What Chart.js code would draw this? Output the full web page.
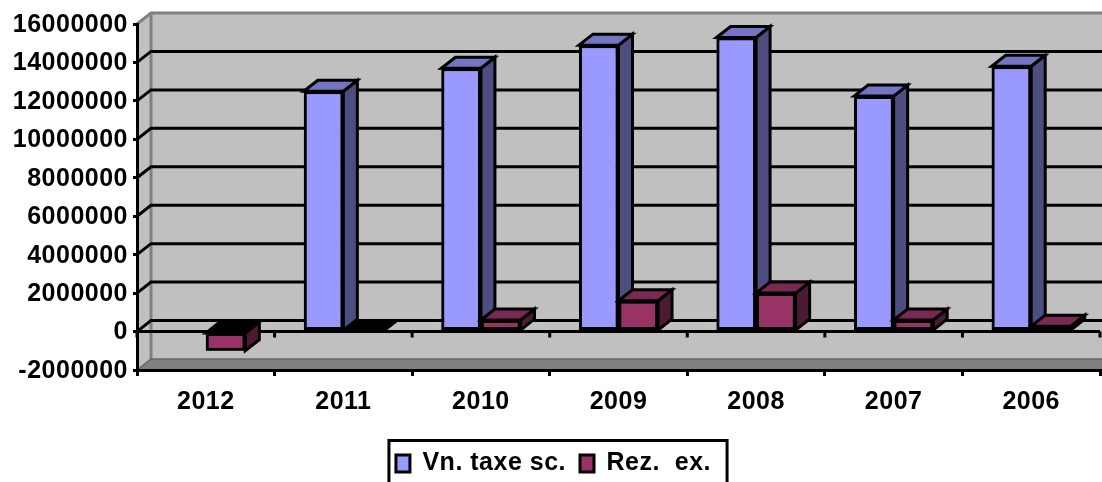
<!DOCTYPE html>
<html>
<head>
<meta charset="utf-8">
<style>html,body{margin:0;padding:0;background:#fff;overflow:hidden}canvas{display:block}</style>
<script src="https://cdn.jsdelivr.net/npm/chart.js@4"></script>
</head>
<body>
<canvas id="c" width="1102" height="482"></canvas>
<script>
const categories = ['2012','2011','2010','2009','2008','2007','2006'];
const vnTaxeSc = [0, 12500000, 13700000, 14900000, 15300000, 12250000, 13800000];
const rezEx = [-1000000, 0, 600000, 1600000, 2000000, 600000, 280000];
const seriesNames = ['Vn. taxe sc.', 'Rez.  ex.'];
const DX = 14, DY = -11;
const FONT = {family:'"Liberation Sans", Arial, sans-serif', size:25, weight:'bold'};
const SPACING = '0.5px';
const shades = [
  {front:'#9999ff', top:'#7474c4', side:'#4d4d80'},
  {front:'#993366', top:'#7a2952', side:'#4d1a33'}
];
function poly(ctx, pts, fill){
  ctx.beginPath();
  pts.forEach((p,i)=> i ? ctx.lineTo(p[0],p[1]) : ctx.moveTo(p[0],p[1]));
  ctx.closePath();
  ctx.fillStyle = fill; ctx.fill(); ctx.stroke();
}
const threeD = {
  id:'threeD',
  beforeLayout(chart){ chart.ctx.letterSpacing = SPACING; },
  beforeDraw(chart){
    const {ctx, chartArea:a, scales:{y}, width} = chart;
    ctx.letterSpacing = SPACING;
    const top = y.getPixelForValue(y.max), bot = y.getPixelForValue(y.min);
    ctx.save();
    ctx.fillStyle = '#c0c0c0';
    ctx.beginPath();
    ctx.moveTo(a.left,top); ctx.lineTo(a.left+DX,top+DY); ctx.lineTo(width,top+DY);
    ctx.lineTo(width,bot); ctx.lineTo(a.left,bot); ctx.closePath(); ctx.fill();
    // floor
    ctx.fillStyle = '#808080';
    ctx.beginPath();
    ctx.moveTo(a.left,bot); ctx.lineTo(a.left+DX,bot+DY); ctx.lineTo(width,bot+DY); ctx.lineTo(width,bot); ctx.closePath(); ctx.fill();
    // wall edges
    ctx.strokeStyle = '#808080'; ctx.lineWidth = 3;
    ctx.beginPath();
    ctx.moveTo(a.left,top); ctx.lineTo(a.left+DX,top+DY); ctx.lineTo(width,top+DY);
    ctx.moveTo(a.left+DX,top+DY); ctx.lineTo(a.left+DX,bot+DY); ctx.stroke();
    ctx.lineWidth = 1.5; ctx.strokeStyle = '#666';
    ctx.beginPath();
    ctx.moveTo(a.left,bot); ctx.lineTo(a.left+DX,bot+DY); ctx.lineTo(width,bot+DY); ctx.stroke();
    // gridlines on the back wall and side wall
    ctx.strokeStyle = '#000'; ctx.lineWidth = 3;
    y.ticks.forEach(t=>{
      if (t.value===y.max || t.value===y.min) return;
      const p = y.getPixelForValue(t.value);
      ctx.beginPath();
      ctx.moveTo(a.left,p); ctx.lineTo(a.left+DX,p+DY); ctx.lineTo(width,p+DY); ctx.stroke();
    });
    ctx.restore();
  },
  beforeDatasetsDraw(chart){
    const {ctx, chartArea:a, scales:{x,y}} = chart;
    const z = y.getPixelForValue(0);
    ctx.save();
    ctx.strokeStyle = '#000'; ctx.lineWidth = 3;
    ctx.beginPath(); ctx.moveTo(a.left,z); ctx.lineTo(a.right,z);
    const w = (a.right-a.left)/categories.length;
    for (let i=0;i<=categories.length;i++){
      const px = x.getPixelForValue(i) - w/2;
      ctx.moveTo(px,z); ctx.lineTo(px,z+6);
    }
    ctx.stroke(); ctx.restore();
  },
  afterDatasetsDraw(chart){
    const {ctx} = chart;
    ctx.save();
    categories.forEach((_,i)=>{
      chart.data.datasets.forEach((ds,d)=>{
        const bar = chart.getDatasetMeta(d).data[i];
        const val = ds.data[i];
        if (d===0 && val===0) return;
        const {x,y,base,width} = bar.getProps(['x','y','base','width'],true);
        const l=x-width/2, r=x+width/2, t=Math.min(y,base), b=Math.max(y,base);
        ctx.strokeStyle='#000'; ctx.lineWidth=3; ctx.lineJoin='miter';
        if (b>t) poly(ctx,[[r,t],[r+DX,t+DY],[r+DX,b+DY],[r,b]],shades[d].side);
        poly(ctx,[[l,t],[l+DX,t+DY],[r+DX,t+DY],[r,t]], val<=0 ? '#000' : shades[d].top);
        if (b>t) bar.draw(ctx);
      });
    });
    ctx.restore();
  },
  afterDraw(chart){
    const {ctx, legend} = chart;
    const hb = legend.legendHitBoxes;
    const last = hb[hb.length-1];
    ctx.save();
    ctx.strokeStyle='#000'; ctx.lineWidth=3;
    ctx.strokeRect(hb[0].left-7, 440.5, last.left+last.width-hb[0].left+23, 60);
    ctx.restore();
  }
};
new Chart(document.getElementById('c'),{
  type:'bar',
  data:{labels:categories,datasets:[
    {label:seriesNames[0],data:vnTaxeSc,backgroundColor:shades[0].front,borderColor:'#000',borderWidth:3,borderSkipped:false},
    {label:seriesNames[1],data:rezEx,backgroundColor:shades[1].front,borderColor:'#000',borderWidth:3,borderSkipped:false}
  ]},
  plugins:[threeD],
  options:{
    responsive:false,animation:false,
    categoryPercentage:0.575,barPercentage:1,
    layout:{padding:{left:7,right:2,top:24,bottom:-4}},
    plugins:{
      tooltip:{enabled:false},
      legend:{position:'bottom',onClick:null,labels:{boxWidth:14,boxHeight:17,padding:14,color:'#000',font:FONT}}
    },
    scales:{
      x:{
        ticks:{color:'#000',font:FONT,padding:11,maxRotation:0,autoSkip:false},
        grid:{drawOnChartArea:false,color:'#000',lineWidth:3,tickLength:6},
        border:{display:true,color:'#000',width:3},
        afterFit(s){ s.height=67; }
      },
      y:{
        min:-2000000,max:16000000,
        ticks:{stepSize:2000000,color:'#000',font:FONT,padding:5,labelOffset:1,autoSkip:false,callback:v=>String(v)},
        grid:{drawOnChartArea:false,color:'#000',lineWidth:3,tickLength:4},
        border:{display:true,color:'#000',width:3},
        afterFit(s){ s.width=130; }
      }
    }
  }
});
</script>
</body>
</html>
